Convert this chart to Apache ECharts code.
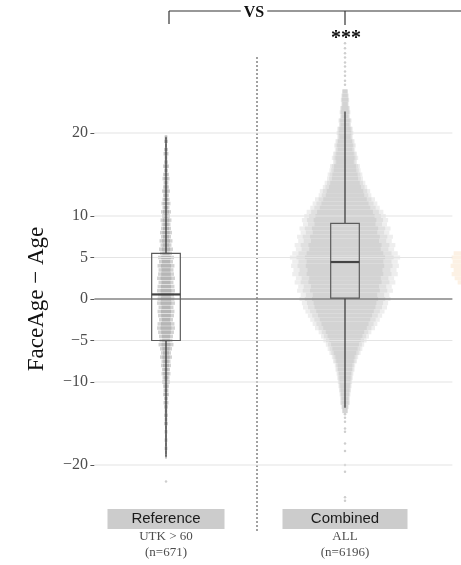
<!DOCTYPE html>
<html><head><meta charset="utf-8">
<script src="https://cdn.jsdelivr.net/npm/echarts@6/dist/echarts.min.js"></script>
<style>html,body{margin:0;padding:0;background:#fff}#c{width:461px;height:565px}</style>
</head><body><div id="c"></div>
<script>
// ---------------- data ----------------
const categories = ['Reference', 'Combined'];
const subLabels = [['UTK > 60', '(n=671)'], ['ALL', '(n=6196)']];
const yTicks = [20, 10, 5, 0, -5, -10, -20];
const yTitle = 'FaceAge \u2212 Age';
const referenceValue = 0;
// [lowerWhisker, Q1, median, Q3, upperWhisker]
const referenceBox = [-19.0, -5.0, 0.55, 5.5, 19.5];
const combinedBox = [-13.1, 0.1, 4.45, 9.1, 22.6];
// [level, relative density] read from the point clouds
const referenceDensity = [
  [19.5,1.5],[19,2],[18.5,1],[18,2],[17.5,2.5],[17,1.5],[16.5,2],[16,3],[15.5,2],[15,3],
  [14.5,3.5],[14,2.5],[13.5,3],[13,4],[12.5,3],[12,3.5],[11.5,4.5],[11,3.5],[10.5,5],[10,4],
  [9.5,5.5],[9,4.5],[8.5,5],[8,6],[7.5,5],[7,6.5],[6.5,5.5],[6,7],[5.5,6],[5,8],
  [4.5,7],[4,8.5],[3.5,7.5],[3,8],[2.5,9],[2,7.5],[1.5,8.5],[1,9],[0.5,8],[0,8.5],
  [-0.5,9],[-1,7.5],[-1.5,8.5],[-2,8],[-2.5,7],[-3,8.5],[-3.5,9],[-4,8],[-4.5,7],[-5,6.5],
  [-5.5,7.5],[-6,6],[-6.5,5],[-7,6],[-7.5,4.5],[-8,5],[-8.5,4],[-9,4.5],[-9.5,3.5],[-10,4],
  [-10.5,3],[-11,2.5],[-11.5,3],[-12,2],[-12.5,2.5],[-13,2],[-13.5,1.5],[-14,2],[-14.5,1.5],[-15,2],
  [-15.5,1],[-16,1.5],[-16.5,1],[-17,1.5],[-17.5,1],[-18,1.5],[-18.5,1],[-19,1]
];
const combinedDensity = [
  [25,2.5],[24.5,3],[24,3.5],[23.5,3],[23,4],[22.5,4.5],[22,4],[21.5,5.5],[21,5],[20.5,6.5],
  [20,7],[19.5,6.5],[19,8],[18.5,9],[18,8.5],[17.5,10],[17,11],[16.5,10],[16,12.5],[15.5,13],
  [15,14.5],[14.5,15],[14,17],[13.5,18.5],[13,21],[12.5,22],[12,25],[11.5,27],[11,29],[10.5,32],
  [10,34],[9.5,36],[9,35],[8.5,38],[8,37],[7.5,40],[7,39],[6.5,42],[6,41],[5.5,44],
  [5,46],[4.5,44],[4,45],[3.5,43],[3,44],[2.5,41],[2,42],[1.5,39],[1,40],[0.5,37],
  [0,38],[-0.5,36],[-1,35],[-1.5,33],[-2,31],[-2.5,29],[-3,27],[-3.5,25],[-4,22],[-4.5,20],
  [-5,18],[-5.5,16],[-6,14.5],[-6.5,13],[-7,11],[-7.5,10],[-8,8.5],[-8.5,8],[-9,7],[-9.5,6.5],
  [-10,6],[-10.5,5.5],[-11,5],[-11.5,4.5],[-12,4],[-12.5,4],[-13,3],[-13.5,2.5]
];
// edge of the next (cut-off) group
const nextGroupDensity = [[6,60],[5.5,70],[5,72],[4.5,71],[4,73],[3.5,70],[3,72],[2.5,69],[2,66],[1.5,62]];
const referenceOutliers = [-22.0];
const combinedOutliers = [30.8, 30.2, 29.6, 29.1, 28.5, 28.0, 27.4, 26.9, 26.3, 25.8,
  -13.9, -14.3, -14.8, -15.6, -16.0, -17.4, -18.3, -20.0, -20.8, -23.9, -24.3];
const comparisonLabel = 'VS';
const significance = '***';

// ---------------- styles ----------------
const SERIF = '"Liberation Serif", "Times New Roman", serif';
const SANS = '"Liberation Sans", Arial, sans-serif';
const BOX_HALF = 0.08;

const chart = echarts.init(document.getElementById('c'), null, {renderer: 'canvas'});

function cloud(name, center, pairs, maxHalf, binH, layers, z) {
  const maxD = Math.max(...pairs.map(p => p[1]));
  return {
    type: 'custom', name, z, silent: true, clip: false,
    data: pairs.map(p => [center, p[0], p[1]]),
    encode: {x: 0, y: 1},
    renderItem(params, api) {
      const c = api.value(0), y = api.value(1), d = api.value(2);
      const children = layers.map(L => {
        const hw = d / maxD * maxHalf * L.scale;
        const p1 = api.coord([c - hw, y + binH / 2]);
        const p2 = api.coord([c + hw, y - binH / 2]);
        return {type: 'rect', shape: {x: p1[0], y: p1[1], width: p2[0] - p1[0], height: p2[1] - p1[1]},
          style: {fill: L.color}};
      });
      return {type: 'group', children};
    }
  };
}

const option = {
  animation: false,
  backgroundColor: '#fff',
  grid: {left: 94.4, right: 8.6, top: 41.7, bottom: 58.5, containLabel: false, outerBoundsMode: 'none'},
  xAxis: {
    type: 'value', min: -0.4, max: 1.6,
    axisLine: {show: false, onZero: false}, axisTick: {show: false}, splitLine: {show: false},
    axisLabel: {
      customValues: [0, 1], margin: 2.5,
      formatter: v => {
        const i = Math.round(v);
        return `{b${i}|${categories[i]}}\n{s|${subLabels[i][0]}}\n{s|${subLabels[i][1]}}`;
      },
      rich: {
        b0: {backgroundColor: '#cccccc', width: 117, height: 20, lineHeight: 20, align: 'center', fontFamily: SANS, fontSize: 15, color: '#1a1a1a'},
        b1: {backgroundColor: '#cccccc', width: 125, height: 20, lineHeight: 20, align: 'center', fontFamily: SANS, fontSize: 15, color: '#1a1a1a'},
        s: {fontFamily: SERIF, fontSize: 13, color: '#4d4d4d', lineHeight: 16, align: 'center'}
      }
    }
  },
  yAxis: {
    type: 'value', min: -25, max: 31,
    axisLine: {show: false, onZero: false}, splitLine: {show: false},
    axisTick: {show: true, customValues: yTicks, length: 4, lineStyle: {color: '#555', width: 1}},
    axisLabel: {customValues: yTicks, margin: 6.5, fontFamily: SERIF, fontSize: 16, color: '#4d4d4d',
      formatter: v => String(v).replace('-', '\u2212')}
  },
  series: [
    cloud('next', 2, nextGroupDensity, 0.41, 0.5, [{scale: 1, color: '#fcf1e4'}], 2),
    cloud('Combined', 1, combinedDensity, 0.28, 0.5,
      [{scale: 1.1, color: '#eeeeee'}, {scale: 0.97, color: '#e0e0e0'}, {scale: 0.8, color: '#d3d3d3'}], 2),
    cloud('Reference', 0, referenceDensity, 0.05, 0.42,
      [{scale: 1, color: '#d2d2d2'}, {scale: 0.6, color: '#b6b6b6'}], 2),
    {
      type: 'scatter', z: 2, silent: true, symbolSize: 2.5,
      itemStyle: {color: '#c2c2c2'},
      data: referenceOutliers.map(v => [0, v]).concat(combinedOutliers.map(v => [1, v]))
    },
    {
      type: 'custom', z: 3, silent: true,
      data: yTicks.map(v => [0, v]), encode: {x: 0, y: 1},
      renderItem(params, api) {
        const v = api.value(1), cs = params.coordSys, p = api.coord([0, v]);
        const zero = v === referenceValue;
        return {type: 'line', shape: {x1: cs.x, y1: p[1], x2: cs.x + cs.width, y2: p[1]},
          style: {stroke: zero ? '#858585' : '#e4e4e4', lineWidth: zero ? 1.6 : 1.1}, z2: zero ? 2 : 1};
      }
    },
    {
      type: 'custom', z: 5, silent: true,
      data: [[0, ...referenceBox], [1, ...combinedBox]], encode: {x: 0, y: [1, 2, 3, 4, 5]},
      renderItem(params, api) {
        const c = api.value(0), lo = api.value(1), q1 = api.value(2), med = api.value(3), q3 = api.value(4), hi = api.value(5);
        const top = api.coord([c, hi]), bot = api.coord([c, lo]);
        const uq = api.coord([c, q3]), lq = api.coord([c, q1]);
        const a = api.coord([c - BOX_HALF, q3]), b = api.coord([c + BOX_HALF, q1]);
        const m1 = api.coord([c - BOX_HALF, med]), m2 = api.coord([c + BOX_HALF, med]);
        return {type: 'group', children: [
          {type: 'line', shape: {x1: top[0], y1: top[1], x2: uq[0], y2: uq[1]}, style: {stroke: '#333', lineWidth: 1.2}},
          {type: 'line', shape: {x1: lq[0], y1: lq[1], x2: bot[0], y2: bot[1]}, style: {stroke: '#333', lineWidth: 1.2}},
          {type: 'rect', shape: {x: a[0], y: a[1], width: b[0] - a[0], height: b[1] - a[1]},
            style: {fill: 'transparent', stroke: '#5c5c5c', lineWidth: 1.2}},
          {type: 'line', shape: {x1: m1[0], y1: m1[1], x2: m2[0], y2: m2[1]}, style: {stroke: '#444', lineWidth: 2.2}}
        ]};
      }
    }
  ]
};
chart.setOption(option);

// title, bracket, separator
const px = v => chart.convertToPixel({xAxisIndex: 0}, v);
const py = v => chart.convertToPixel({yAxisIndex: 0}, v);
const xRef = px(0) + 3, xComb = px(1), xSep = px(0.5) + 1.5;
const W = chart.getWidth();
chart.setOption({
  graphic: [
    {type: 'text', x: 36.5, y: py(referenceValue), rotation: Math.PI / 2, z: 11,
      style: {text: yTitle, font: '23px ' + SERIF, fill: '#111', align: 'center', verticalAlign: 'middle'}},
    {type: 'line', shape: {x1: xSep, y1: 57, x2: xSep, y2: 532}, style: {stroke: '#8a8a8a', lineWidth: 1.6, lineDash: [2, 2]}, z: 1},
    {type: 'line', shape: {x1: xRef, y1: 11, x2: W, y2: 11}, style: {stroke: '#333', lineWidth: 1.2}, z: 10},
    {type: 'line', shape: {x1: xRef, y1: 11, x2: xRef, y2: 24}, style: {stroke: '#333', lineWidth: 1.2}, z: 10},
    {type: 'line', shape: {x1: xComb, y1: 11, x2: xComb, y2: 25}, style: {stroke: '#333', lineWidth: 1.2}, z: 10},
    {type: 'text', x: (xRef + xComb) / 2 - 3, y: 12.5, z: 11,
      style: {text: comparisonLabel, font: 'bold 16px ' + SERIF, fill: '#111', backgroundColor: '#fff', padding: [0, 3],
        align: 'center', verticalAlign: 'middle'}},
    {type: 'text', x: xComb + 1, y: 49, z: 11,
      style: {text: significance, font: 'bold 20px ' + SERIF, fill: '#111', align: 'center', verticalAlign: 'bottom'}}
  ]
});
</script>
</body></html>
